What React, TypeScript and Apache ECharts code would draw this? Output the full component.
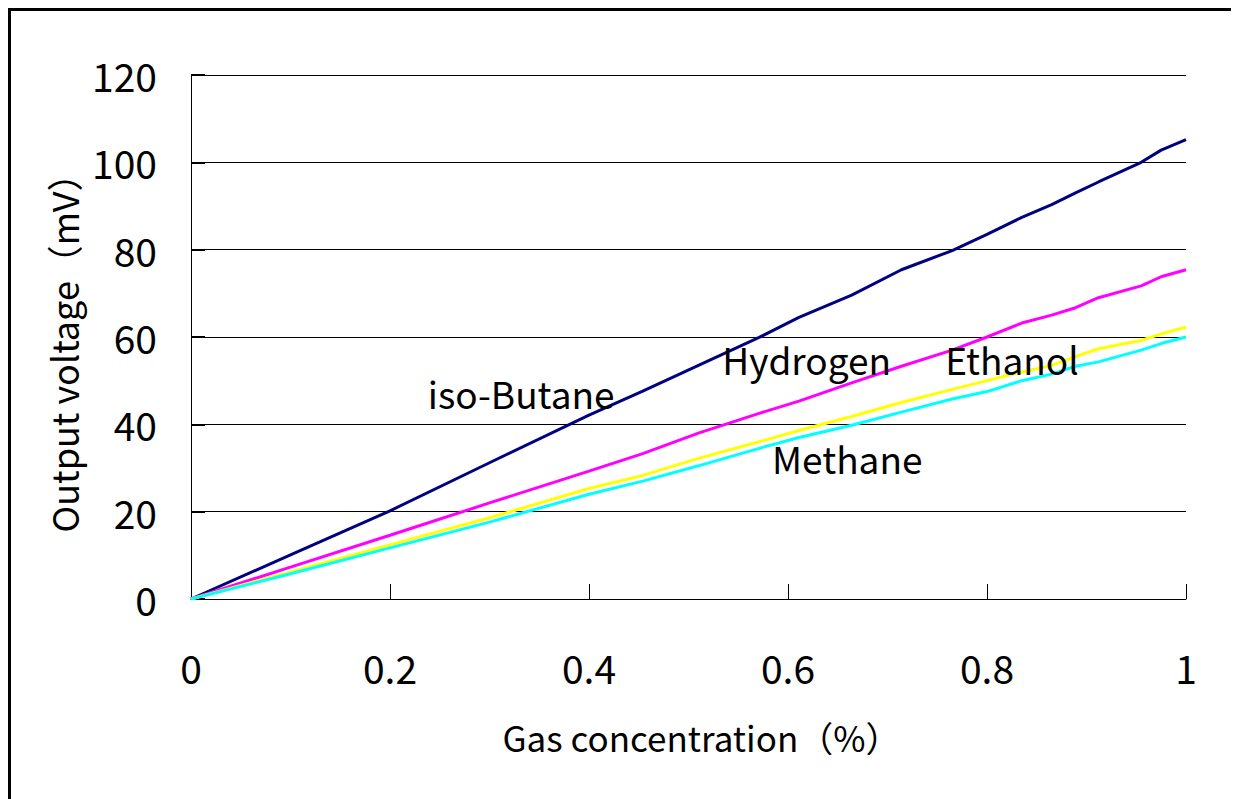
import React, { useEffect, useRef } from "react";
import * as echarts from "echarts";

const concentration = [0, 0.1, 0.2, 0.3, 0.4, 0.454, 0.51, 0.571, 0.611, 0.664, 0.714, 0.765, 0.8, 0.835, 0.865, 0.889, 0.912, 0.955, 0.975, 1.0];
const isoButane = [0, 10.1, 20.2, 31.2, 42.1, 47.6, 53.5, 59.9, 64.5, 69.6, 75.4, 79.8, 83.5, 87.4, 90.3, 93.0, 95.5, 100.0, 102.8, 105.2];
const hydrogen = [0, 7.3, 14.6, 22.0, 29.3, 33.3, 38.0, 42.5, 45.3, 49.5, 53.3, 57.0, 60.0, 63.2, 65.0, 66.7, 69.0, 71.7, 73.8, 75.4];
const ethanol = [0, 6.2, 12.4, 18.6, 25.3, 28.3, 32.2, 36.0, 38.6, 41.8, 45.0, 48.0, 50.0, 52.0, 53.5, 55.5, 57.3, 59.2, 60.7, 62.3];
const methane = [0, 5.8, 11.7, 17.6, 24.0, 27.0, 30.5, 34.5, 37.0, 39.8, 42.8, 45.8, 47.5, 50.0, 51.5, 53.3, 54.3, 57.0, 58.5, 60.0];

const seriesNames = ["iso-Butane", "Hydrogen", "Ethanol", "Methane"];
const seriesValues = [isoButane, hydrogen, ethanol, methane];
const seriesColors = ["#000080", "#ff00ff", "#ffff00", "#00ffff"];

// annotation anchor points in data coordinates [x, y]
const labelAnchors: [number, number][] = [
  [0.238, 47.2],
  [0.534, 55.0],
  [0.758, 55.0],
  [0.584, 32.3],
];

const FONT = "'Noto Sans CJK JP', sans-serif";

export default function App() {
  const ref = useRef<HTMLDivElement>(null);
  useEffect(() => {
    if (!ref.current) return;
    const chart = echarts.init(ref.current, undefined, { renderer: "svg" });
    chart.setOption({
      animation: false,
      backgroundColor: "#ffffff",
      textStyle: { fontFamily: FONT },
      grid: { left: 180, right: 47, top: 64, bottom: 200 },
      xAxis: {
        type: "value",
        min: 0,
        max: 1,
        interval: 0.2,
        name: "Gas concentration\uFF08%\uFF09",
        nameLocation: "middle",
        nameGap: 120,
        nameTextStyle: { fontSize: 35, color: "#000", fontFamily: FONT, padding: [0, 0, 0, 26] },
        axisLine: { show: true, lineStyle: { color: "#000", width: 1 } },
        axisTick: { show: true, inside: true, length: 15, lineStyle: { color: "#000", width: 1 } },
        axisLabel: { fontSize: 39, color: "#000", margin: 48, fontFamily: FONT },
        splitLine: { show: false },
      },
      yAxis: {
        type: "value",
        min: 0,
        max: 120,
        interval: 20,
        name: "Output voltage\uFF08mV\uFF09",
        nameLocation: "middle",
        nameGap: 104,
        nameTextStyle: { fontSize: 36, color: "#000", fontFamily: FONT, padding: [0, 14, 0, 0] },
        axisLine: { show: true, lineStyle: { color: "#000", width: 1 } },
        axisTick: { show: true, inside: true, length: 14, lineStyle: { color: "#000", width: 2 } },
        axisLabel: { fontSize: 39, color: "#000", margin: 34, fontFamily: FONT },
        splitLine: { show: true, lineStyle: { color: "#000", width: 1 } },
      },
      series: seriesNames.map((name, i) => ({
        name,
        type: "line",
        data: concentration.map((c, j) => [c, seriesValues[i][j]]),
        showSymbol: false,
        symbol: "none",
        lineStyle: { color: seriesColors[i], width: 3 },
        z: 2 + i,
      })),
    });
    const graphics = seriesNames.map((name, i) => {
      const p = chart.convertToPixel({ gridIndex: 0 }, labelAnchors[i]) as number[];
      return {
        type: "text",
        x: p[0],
        y: p[1],
        z: 100,
        style: {
          text: name,
          fontSize: 37,
          fontFamily: FONT,
          fill: "#000",
          textAlign: "left",
          textVerticalAlign: "middle",
        },
      };
    });
    chart.setOption({ graphic: graphics });
    return () => chart.dispose();
  }, []);
  return (
    <div
      style={{
        width: 1228,
        height: 791,
        boxSizing: "border-box",
        border: "3px solid #000",
        borderBottom: "none",
        background: "#fff",
      }}
    >
      <div ref={ref} style={{ width: 1222, height: 788 }} />
    </div>
  );
}
